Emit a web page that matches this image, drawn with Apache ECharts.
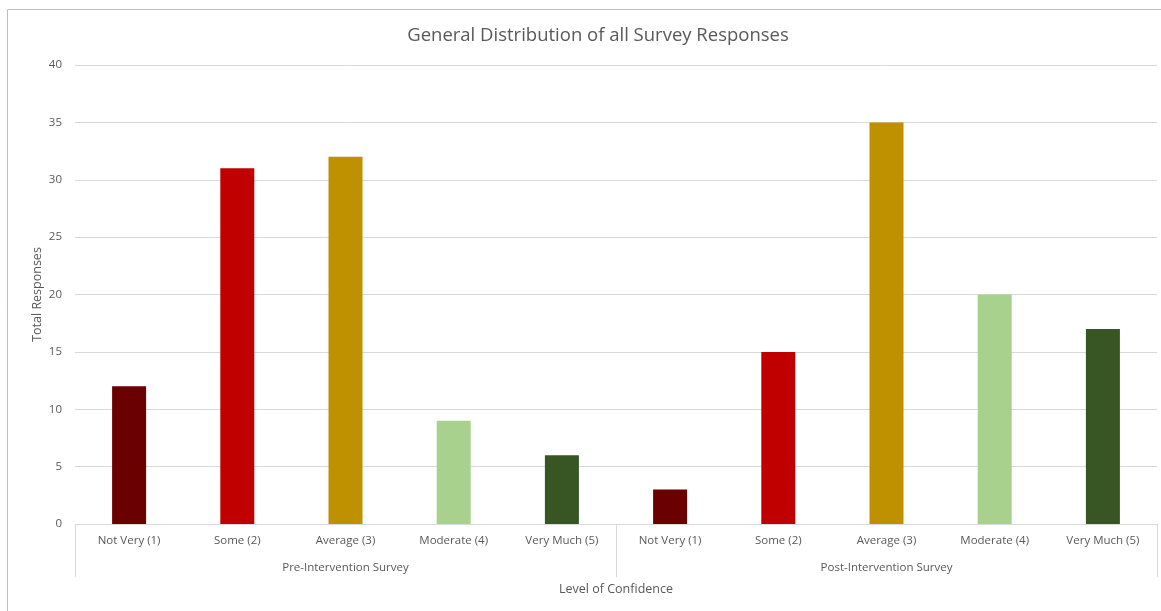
<!DOCTYPE html>
<html>
<head>
<meta charset="utf-8">
<script src="https://cdn.jsdelivr.net/npm/echarts@6/dist/echarts.min.js"></script>
<style>
  html, body { margin: 0; padding: 0; background: #fff; }
  #chart { width: 1161px; height: 611px; }
</style>
</head>
<body>
<div id="chart"></div>
<script>
// 数据
const levels = ['Not Very (1)', 'Some (2)', 'Average (3)', 'Moderate (4)', 'Very Much (5)']
const surveys = ['Pre-Intervention Survey', 'Post-Intervention Survey']
const preValues = [12, 31, 32, 9, 6]
const postValues = [3, 15, 35, 20, 17]
const yTicks = [0, 5, 10, 15, 20, 25, 30, 35, 40]

const levelColors = ['#6B0000', '#C00000', '#BF9000', '#A9D18E', '#375623']
const textColor = '#595959'
const lineColor = '#d9d9d9'
const font = 'Open Sans, sans-serif'

const categories = [...levels, ...levels]
const values = [...preValues, ...postValues]

const myChart = echarts.init(document.getElementById('chart'))

const option = {
  animation: false,
  title: {
    text: 'General Distribution of all Survey Responses',
    left: 593,
    top: 21,
    textAlign: 'center',
    textStyle: { fontFamily: font, fontSize: 18.5, fontWeight: 'normal', color: textColor }
  },
  grid: { left: 75, right: 4, top: 65, bottom: 87 },
  graphic: [
    { type: 'line', shape: { x1: 7.5, y1: 9.5, x2: 1161, y2: 9.5 }, style: { stroke: '#bfbfbf', lineWidth: 1 } },
    { type: 'line', shape: { x1: 7.5, y1: 9.5, x2: 7.5, y2: 611 }, style: { stroke: '#bfbfbf', lineWidth: 1 } }
  ],
  xAxis: [
    {
      type: 'category',
      data: categories,
      position: 'bottom',
      axisLine: { show: false },
      axisTick: { show: false },
      axisLabel: { interval: 0, margin: 11, color: textColor, fontFamily: font, fontSize: 11.5 },
      name: 'Level of Confidence',
      nameLocation: 'middle',
      nameGap: 59,
      nameTextStyle: { color: textColor, fontFamily: font, fontSize: 12.5 }
    },
    {
      type: 'category',
      data: surveys,
      position: 'bottom',
      axisLine: { show: true, lineStyle: { color: lineColor } },
      axisTick: { show: true, length: 53, lineStyle: { color: lineColor } },
      axisLabel: { interval: 0, margin: 38, color: textColor, fontFamily: font, fontSize: 11.5 }
    }
  ],
  yAxis: {
    type: 'value',
    min: yTicks[0],
    max: yTicks[yTicks.length - 1],
    interval: yTicks[1] - yTicks[0],
    axisLine: { show: false },
    axisTick: { show: false },
    axisLabel: { margin: 13, color: textColor, fontFamily: font, fontSize: 11.5 },
    splitLine: { lineStyle: { color: lineColor } },
    name: 'Total Responses',
    nameLocation: 'middle',
    nameMoveOverlap: false,
    nameGap: 31,
    nameTextStyle: { color: textColor, fontFamily: font, fontSize: 12.5 }
  },
  series: [
    {
      type: 'bar',
      xAxisIndex: 0,
      barWidth: 34,
      data: values.map((v, i) => ({
        value: v,
        itemStyle: { color: levelColors[i % levelColors.length] }
      }))
    }
  ]
}
myChart.setOption(option)
</script>
</body>
</html>
